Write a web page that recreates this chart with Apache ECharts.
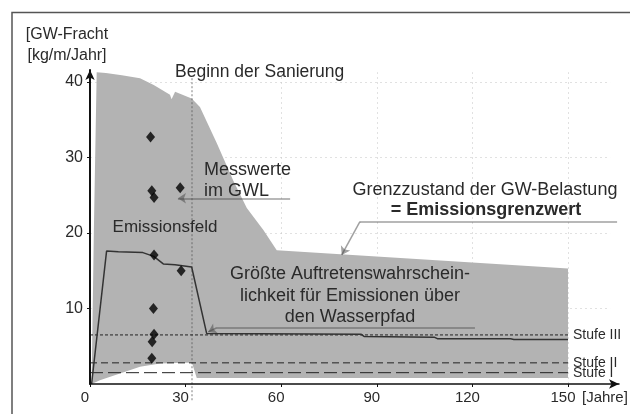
<!DOCTYPE html>
<html>
<head>
<meta charset="utf-8">
<style>
html, body { margin: 0; padding: 0; background: #fff; }
#chart { width: 630px; height: 414px; }
</style>
<script src="https://cdn.jsdelivr.net/npm/echarts@6/dist/echarts.min.js"></script>
</head>
<body>
<div id="chart"></div>
<script>
// Achsen
var xTicks = [0, 30, 60, 90, 120, 150];
var yTicks = [10, 20, 30, 40];

// Emissionsfeld: obere und untere Begrenzung [Jahre, kg/m/Jahr]
var feldOben = [[0.5, 0], [1.2, 20], [2.1, 41.3], [5, 41.2], [10, 40.9], [15.7, 40.5], [20, 39.6],
    [25.1, 38.3], [25.6, 37.7], [26.7, 38.7], [31.9, 37.8], [34.5, 36.7], [39.8, 31.9], [44.9, 27],
    [49.2, 23.3], [54.4, 20.4], [58.6, 17.7], [150, 15.3], [150, 0]];
var feldUnten = [[0.5, 0], [3.1, 0.5], [9.4, 1.4], [15.7, 2.3], [22, 2.7], [30.3, 2.8], [32, 2.8],
    [33.5, 0.8], [150, 0.8], [150, 0]];

// Größte Auftretenswahrscheinlichkeit
var wahrscheinlich = [[0.5, 0], [5.2, 17.6], [8.9, 17.5], [16.6, 17.4], [20, 16.9], [23, 15.9],
    [26.7, 15.8], [31.9, 15.5], [36.6, 6.7], [85, 6.6], [86, 6.3], [108, 6.2], [109, 6.0],
    [132, 6.0], [133, 5.9], [150, 5.9]];

// Messwerte im GWL
var messwerte = [[19.0, 32.7], [19.4, 25.6], [20.1, 24.7], [28.3, 26.0], [20.1, 17.1], [28.6, 15.0],
    [19.9, 10.0], [20.1, 6.6], [19.5, 5.6], [19.4, 3.4]];

// Stufen
var stufenNamen = ['Stufe III', 'Stufe II', 'Stufe I'];
var stufenWerte = [6.5, 2.8, 1.5];
var stufenDash = [[3, 2], [7, 4], [13, 5]];

var sanierungBeginn = 32;

var font = "'Liberation Sans', Arial, sans-serif";
var textColor = '#2a2a2a';

var chart = echarts.init(document.getElementById('chart'));

var gitter = [];
yTicks.forEach(function (v) {
    gitter.push({ coords: [[0, v], [163.2, v]] });
});
xTicks.slice(2).forEach(function (v) {
    gitter.push({ coords: [[v, 0], [v, 41.3]] });
});

var series = [
    {
        type: 'lines', coordinateSystem: 'cartesian2d', z: 1, silent: true,
        lineStyle: { color: '#c4c4c4', width: 1, type: [2, 3] },
        data: gitter
    },
    {
        type: 'line', z: 2, data: feldOben, showSymbol: false, silent: true,
        lineStyle: { width: 0 }, areaStyle: { color: '#b3b3b3', opacity: 1 }
    },
    {
        type: 'line', z: 3, data: feldUnten, showSymbol: false, silent: true,
        lineStyle: { width: 0 }, areaStyle: { color: '#ffffff', opacity: 1 }
    }
];

stufenNamen.forEach(function (name, i) {
    series.push({
        type: 'line', name: name, z: 4, showSymbol: false, silent: true,
        data: [[0, stufenWerte[i]], [150, stufenWerte[i]]],
        lineStyle: { color: '#222', width: 1, type: stufenDash[i] },
        endLabel: {
            show: true, formatter: '{a}', distance: 5,
            fontFamily: font, fontSize: 14, color: textColor
        }
    });
});

series.push(
    {
        type: 'lines', coordinateSystem: 'cartesian2d', z: 4, clip: false, silent: true,
        lineStyle: { color: '#555', width: 1.5, type: [2, 2] },
        data: [{ coords: [[sanierungBeginn, 40.5], [sanierungBeginn, -2.3]] }]
    },
    {
        type: 'line', z: 5, data: wahrscheinlich, showSymbol: false, silent: true,
        lineStyle: { color: '#333', width: 1.5 }
    },
    {
        type: 'scatter', z: 6, data: messwerte, symbol: 'diamond', symbolSize: [9, 11],
        itemStyle: { color: '#000' }, silent: true
    },
    {
        type: 'lines', coordinateSystem: 'cartesian2d', z: 6, silent: true,
        lineStyle: { color: '#444', width: 1.5 },
        data: [
            { coords: [[165.4, 21.5], [84.7, 21.5]] },
            { coords: [[120.8, 7.5], [39.8, 7.45]] }
        ]
    },
    {
        type: 'lines', coordinateSystem: 'cartesian2d', z: 6, silent: true,
        symbol: ['none', 'arrow'], symbolSize: 8,
        lineStyle: { color: '#444', width: 1.5 },
        data: [
            { coords: [[62.8, 24.6], [27.6, 24.6]] },
            { coords: [[84.7, 21.5], [79, 17.1]] },
            { coords: [[39.8, 7.45], [37.1, 6.9]] }
        ]
    }
);

function txt(x, y, s, size, align, bold) {
    return {
        type: 'text', x: x, y: y, z: 20, silent: true,
        style: {
            text: s, fontFamily: font, fontSize: size, fill: textColor,
            fontWeight: bold ? 'bold' : 'normal',
            align: align, verticalAlign: 'middle'
        }
    };
}

var option = {
    backgroundColor: '#fff',
    animation: false,
    grid: { left: 90, right: 11, top: 69.9, bottom: 30 },
    xAxis: {
        type: 'value', min: 0, max: 166, interval: 30, z: 10,
        axisLine: { lineStyle: { color: '#111', width: 1.5 }, symbol: ['none', 'arrow'], symbolSize: [7, 10] },
        axisTick: { length: 3, lineStyle: { color: '#111' }, customValues: xTicks },
        axisLabel: {
            customValues: xTicks, margin: 6, padding: [0, 10, 0, 0],
            fontFamily: font, fontSize: 15, color: textColor
        },
        splitLine: { show: false }
    },
    yAxis: {
        type: 'value', min: 0, max: 41.6, interval: 10, z: 10,
        axisLine: { lineStyle: { color: '#111', width: 2 }, symbol: ['none', 'arrow'], symbolSize: [7, 10] },
        axisTick: { length: 3, lineStyle: { color: '#111' }, customValues: yTicks },
        axisLabel: {
            customValues: yTicks, margin: 7,
            fontFamily: font, fontSize: 16, color: textColor
        },
        splitLine: { show: false }
    },
    graphic: [
        {
            type: 'rect', z: 20, silent: true,
            shape: { x: 12, y: 12.5, width: 640, height: 420 },
            style: { fill: 'none', stroke: '#555', lineWidth: 1.5 }
        },
        txt(67, 35, '[GW-Fracht', 16, 'center'),
        txt(67, 56, '[kg/m/Jahr]', 16, 'center'),
        txt(175, 72, 'Beginn der Sanierung', 17.5, 'left'),
        txt(204, 170, 'Messwerte', 18, 'left'),
        txt(204, 191, 'im GWL', 18, 'left'),
        txt(165, 227, 'Emissionsfeld', 17, 'center'),
        txt(485, 190, 'Grenzzustand der GW-Belastung', 18, 'center'),
        txt(486, 210, '= Emissionsgrenzwert', 18, 'center', true),
        txt(350, 274, 'Größte Auftretenswahrschein-', 18, 'center'),
        txt(350, 296, 'lichkeit für Emissionen über', 18, 'center'),
        txt(350, 317.5, 'den Wasserpfad', 18, 'center'),
        txt(582, 398, '[Jahre]', 15, 'left')
    ],
    series: series
};

chart.setOption(option);
</script>
</body>
</html>
